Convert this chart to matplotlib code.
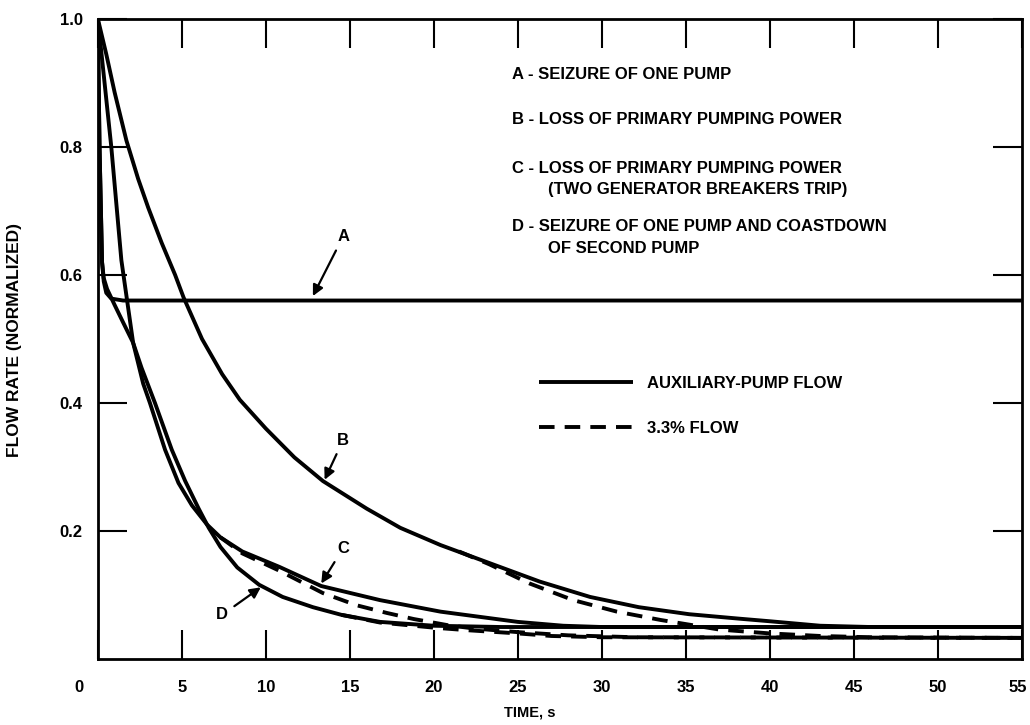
import matplotlib
matplotlib.use("Agg")
import matplotlib.pyplot as plt
from matplotlib.transforms import ScaledTranslation

# =========================
# DATA
# =========================

# A - seizure of one pump
time_a = [0, 0.1, 0.25, 0.35, 0.5, 0.8, 1.5, 55]
flow_a = [1.0, 0.8, 0.62, 0.59, 0.572, 0.563, 0.56, 0.56]

# B - loss of primary pumping power
time_b = [0, 0.5, 1.0, 1.7, 2.4, 3.0, 3.8, 4.6, 5.1, 6.2, 7.4, 8.45, 10, 11.7,
          13.4, 16, 18, 20.4, 23.3, 26.3, 29.3, 32.2, 35.2, 38.2, 40, 43, 46, 55]
flow_b = [1.0, 0.945, 0.885, 0.81, 0.75, 0.705, 0.65, 0.6, 0.565, 0.5, 0.445,
          0.405, 0.36, 0.315, 0.278, 0.235, 0.205, 0.178, 0.15, 0.121, 0.097,
          0.081, 0.07, 0.063, 0.059, 0.052, 0.05, 0.05]
time_b_33 = [21.5, 23.3, 25.7, 28.3, 30.9, 33.5, 34.9, 37, 40, 43, 46, 55]
flow_b_33 = [0.168, 0.148, 0.118, 0.092, 0.074, 0.061, 0.055, 0.046, 0.04,
             0.036, 0.034, 0.033]

# C - loss of primary pumping power (two generator breakers trip)
time_c = [0, 0.8, 1.4, 2.1, 2.7, 3.1, 4.0, 4.8, 5.6, 6.5, 7.3, 8.6, 10.8, 13.3,
          16.8, 20.4, 22.7, 25, 27.7, 30, 55]
flow_c = [1.0, 0.8, 0.623, 0.494, 0.43, 0.4, 0.327, 0.275, 0.24, 0.21, 0.19,
          0.168, 0.144, 0.114, 0.092, 0.074, 0.066, 0.058, 0.052, 0.05, 0.05]
time_c_33 = [7.3, 8.6, 10.8, 13.4, 15.4, 17.2, 18.8, 20.8, 22.3, 25, 28, 32, 55]
flow_c_33 = [0.19, 0.165, 0.138, 0.103, 0.084, 0.072, 0.0625, 0.053, 0.048,
             0.042, 0.037, 0.034, 0.033]

# D - seizure of one pump and coastdown of second pump
time_d = [0, 0.1, 0.25, 0.35, 0.55, 1.0, 1.5, 2.1, 2.6, 3.4, 4.4, 5.2, 6.0, 6.6,
          7.3, 8.3, 9.6, 11, 12.8, 14.5, 16.8, 20, 24, 55]
flow_d = [1.0, 0.8, 0.62, 0.595, 0.578, 0.553, 0.526, 0.494, 0.455, 0.4, 0.327,
          0.278, 0.235, 0.205, 0.175, 0.143, 0.116, 0.097, 0.081, 0.069, 0.058,
          0.052, 0.05, 0.05]
time_d_33 = [14.5, 16.8, 20, 22, 25, 27, 30, 55]
flow_d_33 = [0.069, 0.057, 0.049, 0.045, 0.04, 0.036, 0.034, 0.033]

X_TICKS = list(range(0, 60, 5))
Y_TICKS = [0.2, 0.4, 0.6, 0.8, 1.0]
Y_TICK_LABELS = ["0.2", "0.4", "0.6", "0.8", "1.0"]

CASE_TEXT = [
    "A - SEIZURE OF ONE PUMP",
    "B - LOSS OF PRIMARY PUMPING POWER",
    "C - LOSS OF PRIMARY PUMPING POWER",
    "(TWO GENERATOR BREAKERS TRIP)",
    "D - SEIZURE OF ONE PUMP AND COASTDOWN",
    "OF SECOND PUMP",
]

# =========================
# STYLE
# =========================

plt.rcParams["font.family"] = ["Liberation Sans", "DejaVu Sans"]
plt.rcParams["font.weight"] = "bold"
plt.rcParams["axes.labelweight"] = "bold"

LW = 2.8
DASH = (0, (4, 2.6))
FS = 12

fig = plt.figure(figsize=(10.3, 7.25), dpi=100)
ax = fig.add_axes([0.095, 0.091, 0.897, 0.883])

solid_kw = dict(color="black", lw=LW, solid_capstyle="butt",
                solid_joinstyle="round")
dash_kw = dict(color="black", lw=LW, linestyle=DASH, dash_capstyle="butt")

ax.plot(time_a, flow_a, **solid_kw)
ax.plot(time_b, flow_b, label="AUXILIARY-PUMP FLOW", **solid_kw)
ax.plot(time_c, flow_c, **solid_kw)
ax.plot(time_d, flow_d, **solid_kw)
ax.plot(time_b_33, flow_b_33, label="3.3% FLOW", **dash_kw)
ax.plot(time_c_33, flow_c_33, **dash_kw)
ax.plot(time_d_33, flow_d_33, **dash_kw)

ax.set_xlim(0, 55)
ax.set_ylim(0, 1.0)
ax.set_xticks(X_TICKS)
ax.set_yticks(Y_TICKS)
ax.set_yticklabels(Y_TICK_LABELS)

ax.tick_params(axis="both", direction="in", length=21, width=1.5,
               top=True, right=True, labelsize=FS)
ax.tick_params(axis="x", pad=15)
ax.tick_params(axis="y", pad=11)
for spine in ax.spines.values():
    spine.set_linewidth(2.0)

# the first and last x labels sit a little off their ticks in the original
xlabels = ax.get_xticklabels()
xlabels[0].set_transform(xlabels[0].get_transform()
                         + ScaledTranslation(-19 / 100, 0, fig.dpi_scale_trans))
xlabels[-1].set_transform(xlabels[-1].get_transform()
                          + ScaledTranslation(-4 / 100, 0, fig.dpi_scale_trans))

ax.set_xlabel("TIME, s", fontsize=10.5)
ax.xaxis.set_label_coords(0.4675, -0.073)
ax.set_ylabel("FLOW RATE (NORMALIZED)", fontsize=12.5)
ax.yaxis.set_label_coords(-0.082, 0.498)

# case descriptions
text_x = [0.448, 0.448, 0.448, 0.487, 0.448, 0.487]
text_y = [0.9125, 0.842, 0.767, 0.733, 0.675, 0.642]
for s, x, y in zip(CASE_TEXT, text_x, text_y):
    ax.text(x, y, s, transform=ax.transAxes, fontsize=FS, va="center", ha="left")

leg = ax.legend(loc="center left", bbox_to_anchor=(0.478, 0.395), frameon=False,
                fontsize=FS, handlelength=5.6, handletextpad=0.85,
                labelspacing=1.8, borderpad=0, borderaxespad=0)

# curve labels with arrows
arrow_kw = dict(arrowstyle="-|>", color="black", lw=1.6, shrinkA=3, shrinkB=0,
                mutation_scale=16)
ax.annotate("A", xy=(12.8, 0.567), xytext=(14.6, 0.66), fontsize=FS,
            ha="center", va="center", arrowprops=arrow_kw)
ax.annotate("B", xy=(13.5, 0.28), xytext=(14.6, 0.342), fontsize=FS,
            ha="center", va="center", arrowprops=arrow_kw)
ax.annotate("C", xy=(13.3, 0.118), xytext=(14.6, 0.173), fontsize=FS,
            ha="center", va="center", arrowprops=arrow_kw)
ax.annotate("D", xy=(9.7, 0.112), xytext=(7.4, 0.069), fontsize=FS,
            ha="center", va="center", arrowprops=arrow_kw)

fig.savefig("out.png", dpi=100)
